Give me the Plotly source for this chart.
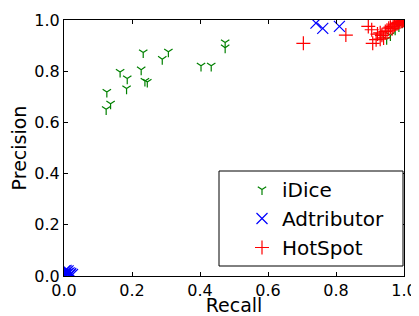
import plotly.graph_objects as go

# iDice (green)
idice_recall = [0.126, 0.137, 0.124, 0.165, 0.186, 0.184, 0.233, 0.227, 0.238, 0.245,
                0.289, 0.307, 0.403, 0.433, 0.474, 0.474,
                0.949, 0.960, 0.974, 0.985, 0.995]
idice_precision = [0.719, 0.673, 0.651, 0.797, 0.771, 0.732, 0.873, 0.806, 0.762, 0.758,
                   0.847, 0.876, 0.821, 0.821, 0.912, 0.892,
                   0.925, 0.940, 0.962, 0.975, 0.990]

# Adtributor (blue)
adtributor_recall = [0.741, 0.761, 0.810, 0.993, 1.000,
                     0.000, 0.003, 0.005, 0.008, 0.010, 0.012, 0.015, 0.020, 0.018, 0.002, 0.006, 0.025]
adtributor_precision = [0.988, 0.967, 0.975, 0.995, 1.000,
                        0.000, 0.010, 0.005, 0.015, 0.008, 0.020, 0.012, 0.010, 0.005, 0.020, 0.022, 0.006]

# HotSpot (red)
hotspot_recall = [0.704, 0.829, 0.895, 0.905, 0.908, 0.918, 0.922, 0.930, 0.935, 0.945,
                  0.950, 0.955, 0.960, 0.965, 0.968, 0.972, 0.976, 0.980, 0.984, 0.988,
                  0.992, 0.996, 0.999, 0.940, 0.930]
hotspot_precision = [0.909, 0.941, 0.975, 0.962, 0.909, 0.923, 0.945, 0.950, 0.940, 0.955,
                     0.960, 0.968, 0.972, 0.966, 0.975, 0.980, 0.984, 0.986, 0.990, 0.992,
                     0.995, 0.997, 0.999, 0.930, 0.925]

tick_vals = [0.0, 0.2, 0.4, 0.6, 0.8, 1.0]
tick_text = ["0.0", "0.2", "0.4", "0.6", "0.8", "1.0"]

FONT = "DejaVu Sans"

fig = go.Figure()
fig.add_trace(go.Scatter(x=idice_recall, y=idice_precision, mode="markers", name="iDice",
                         legendgroup="a",
                         marker=dict(symbol="y-down", size=7, color="#008000",
                                     line=dict(color="#008000", width=1.2))))
fig.add_trace(go.Scatter(x=adtributor_recall, y=adtributor_precision, mode="markers", name="Adtributor",
                         legendgroup="b",
                         marker=dict(symbol="x-thin", size=11, color="#0000ff",
                                     line=dict(color="#0000ff", width=1.2))))
fig.add_trace(go.Scatter(x=hotspot_recall, y=hotspot_precision, mode="markers", name="HotSpot",
                         legendgroup="c",
                         marker=dict(symbol="cross-thin", size=10, color="#ff0000",
                                     line=dict(color="#ff0000", width=1.2))))

axis_common = dict(range=[0, 1], tickvals=tick_vals, ticktext=tick_text,
                   showline=True, linecolor="black", linewidth=1, mirror="ticks",
                   ticks="inside", ticklen=4, tickwidth=1, tickcolor="black",
                   showgrid=False, zeroline=False, automargin=False,
                   tickfont=dict(family=FONT, size=16, color="black"))

# the page has an 8px body margin, so the figure fills the remaining 411x308
fig.update_layout(
    width=411, height=308,
    margin=dict(l=56, r=15, t=12, b=40),
    paper_bgcolor="white", plot_bgcolor="white",
    font=dict(family=FONT, color="black"),
    xaxis=dict(**axis_common, title=dict(text="Recall", font=dict(family=FONT, size=19), standoff=4)),
    yaxis=dict(**axis_common, title=dict(text="Precision", font=dict(family=FONT, size=19), standoff=6)),
    legend=dict(x=(242 - 64) / 340, y=(276 - 170) / 256, xanchor="left", yanchor="top",
                borderwidth=0, bgcolor="rgba(0,0,0,0)",
                font=dict(family=FONT, size=20), tracegroupgap=0),
    shapes=[dict(type="rect", xref="paper", yref="paper",
                 x0=(219 - 64) / 340, x1=(403 - 64) / 340,
                 y0=(276 - 266) / 256, y1=(276 - 171) / 256,
                 line=dict(color="black", width=1), fillcolor="white", layer="above")],
)

fig.write_html("out.html")
